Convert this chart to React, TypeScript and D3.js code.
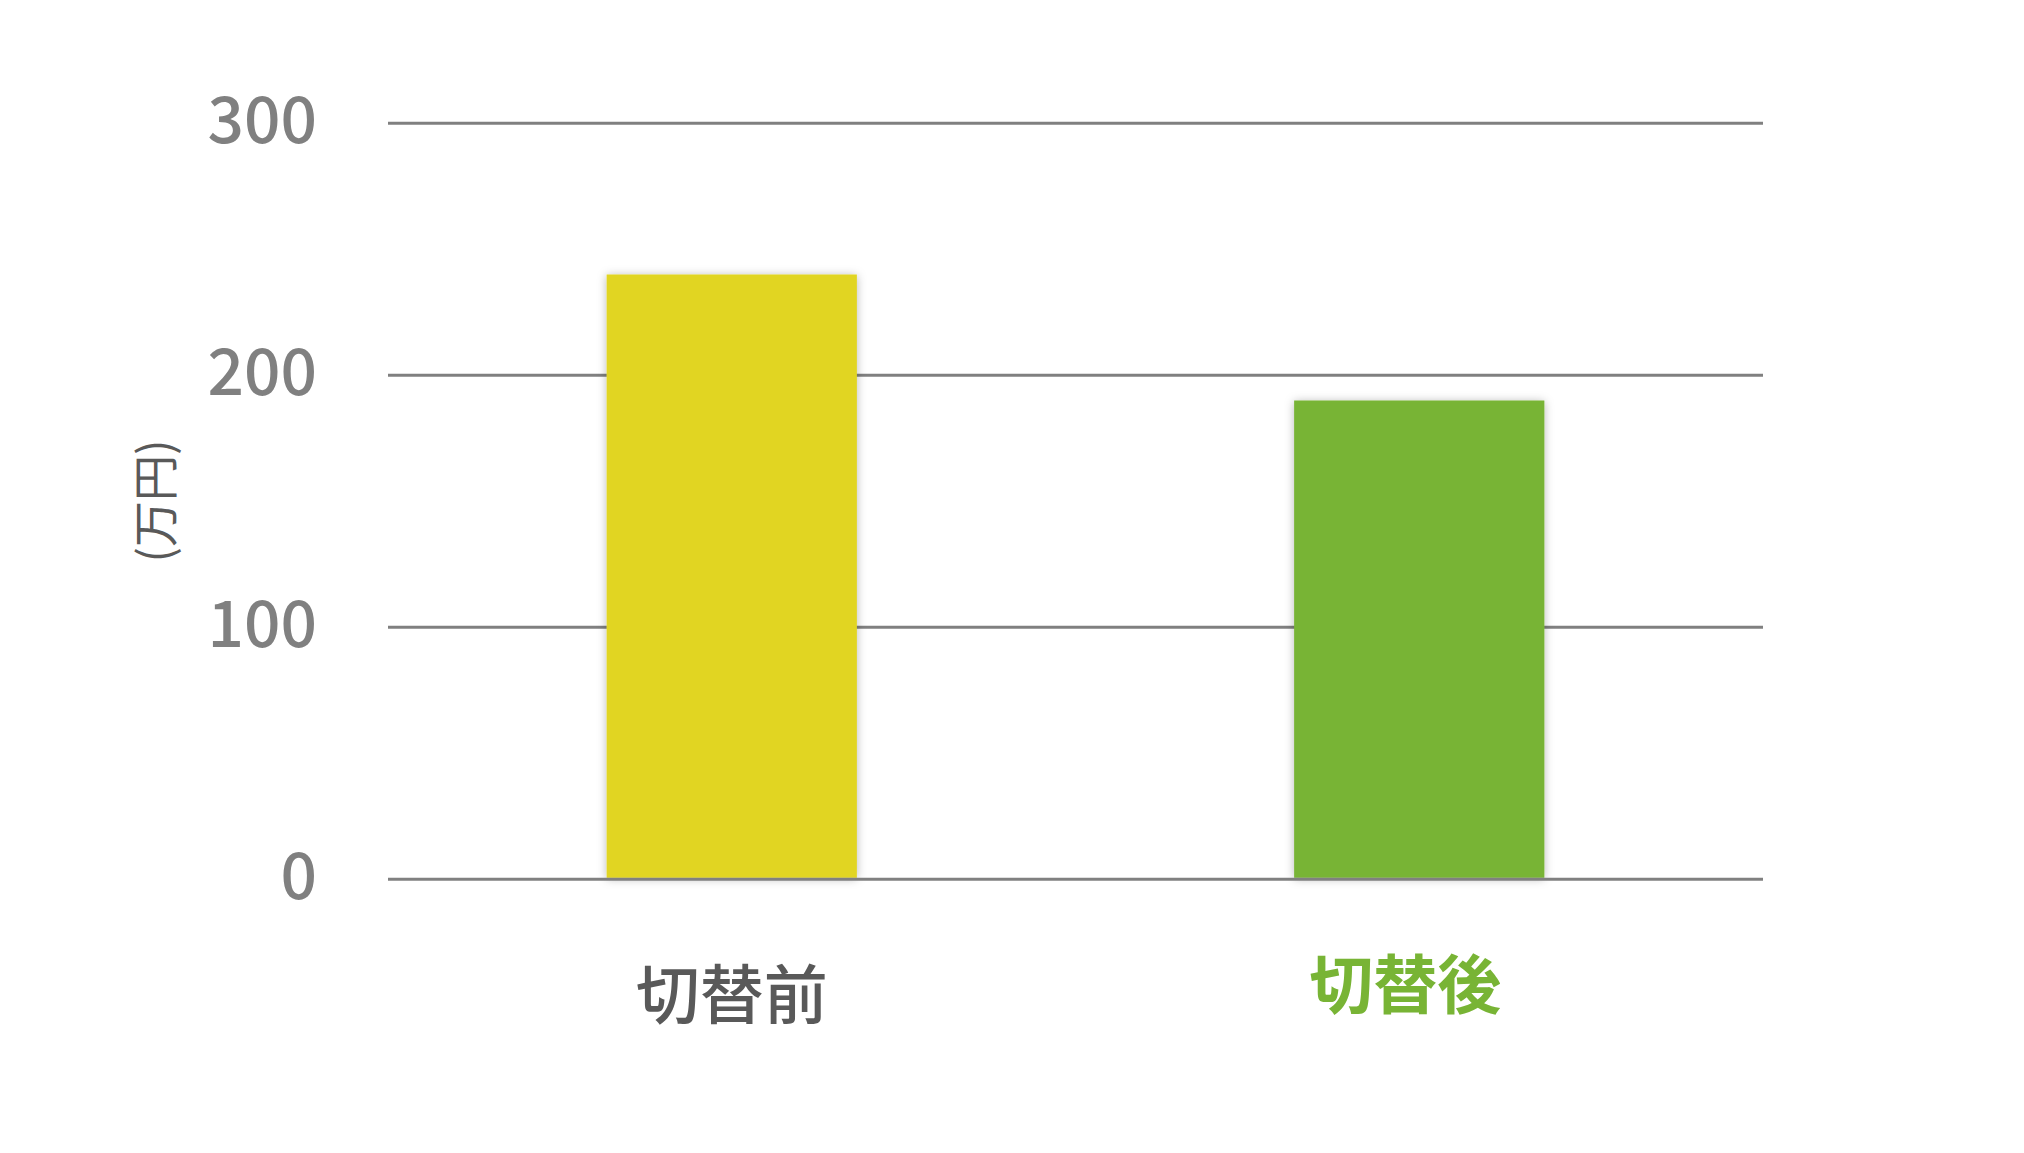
import React from 'react';
import * as d3 from 'd3';

// ---- data ----
const categories: string[] = ['切替前', '切替後'];
const values: number[] = [240, 190];
const yTicks: number[] = [0, 100, 200, 300];
const yAxisTitle = '(万円)';

// ---- styles ----
const barColors = ['#E1D524', '#78B435'];
const labelStyles = [
  { fill: '#595959', weight: 500, dx: 0, dy: 0 },
  { fill: '#78B435', weight: 700, dx: -14, dy: -10 },
];
const FONT = '"Noto Sans CJK JP", "Noto Sans", sans-serif';

export default function App() {
  const W = 2024;
  const H = 1153;
  const left = 388;
  const right = 1763;
  const x = d3
    .scaleBand<string>()
    .domain(categories)
    .range([left, right])
    .paddingInner(0.636)
    .paddingOuter(0.318);
  const y = d3.scaleLinear().domain([0, 300]).range([879.3, 123.3]);
  const bw = x.bandwidth();

  return (
    <div style={{ position: 'absolute', left: 0, top: 0, width: W, height: H, background: '#fff' }}>
      <svg width={W} height={H} viewBox={`0 0 ${W} ${H}`} style={{ display: 'block' }}>
        <defs>
          <filter id="barShadow" x="-20%" y="-20%" width="140%" height="140%">
            <feDropShadow dx="0" dy="1" stdDeviation="5" floodColor="#000" floodOpacity="0.28" />
          </filter>
        </defs>
        <rect x={0} y={0} width={W} height={H} fill="#fff" />
        {/* grid lines (except baseline) */}
        {yTicks
          .filter((t) => t !== 0)
          .map((t) => (
            <line key={`g${t}`} x1={left} x2={right} y1={y(t)} y2={y(t)} stroke="#808080" strokeWidth={3} />
          ))}
        {/* bars */}
        {categories.map((c, i) => (
          <rect
            key={`b${c}`}
            x={x(c)}
            y={y(values[i])}
            width={bw}
            height={y(0) - y(values[i]) - 1.5}
            fill={barColors[i]}
            filter="url(#barShadow)"
          />
        ))}
        {/* baseline */}
        <line x1={left} x2={right} y1={y(0)} y2={y(0)} stroke="#808080" strokeWidth={3} />
        {/* y tick labels */}
        {yTicks.map((t) => (
          <text
            key={`t${t}`}
            x={317}
            y={y(t) + 20}
            textAnchor="end"
            fontFamily={FONT}
            fontSize={64}
            fontWeight={500}
            fill="#808080"
          >
            {t}
          </text>
        ))}
        {/* y axis title */}
        <text
          transform={`translate(152, 501) rotate(-90)`}
          textAnchor="middle"
          dominantBaseline="central"
          fontFamily={FONT}
          fontSize={46}
          fill="#595959"
        >
          {yAxisTitle}
        </text>
        {/* category labels */}
        {categories.map((c, i) => (
          <text
            key={`l${c}`}
            x={(x(c) as number) + bw / 2 + labelStyles[i].dx}
            y={1018 + labelStyles[i].dy}
            textAnchor="middle"
            fontFamily={FONT}
            fontSize={64}
            fontWeight={labelStyles[i].weight}
            fill={labelStyles[i].fill}
          >
            {c}
          </text>
        ))}
      </svg>
    </div>
  );
}
